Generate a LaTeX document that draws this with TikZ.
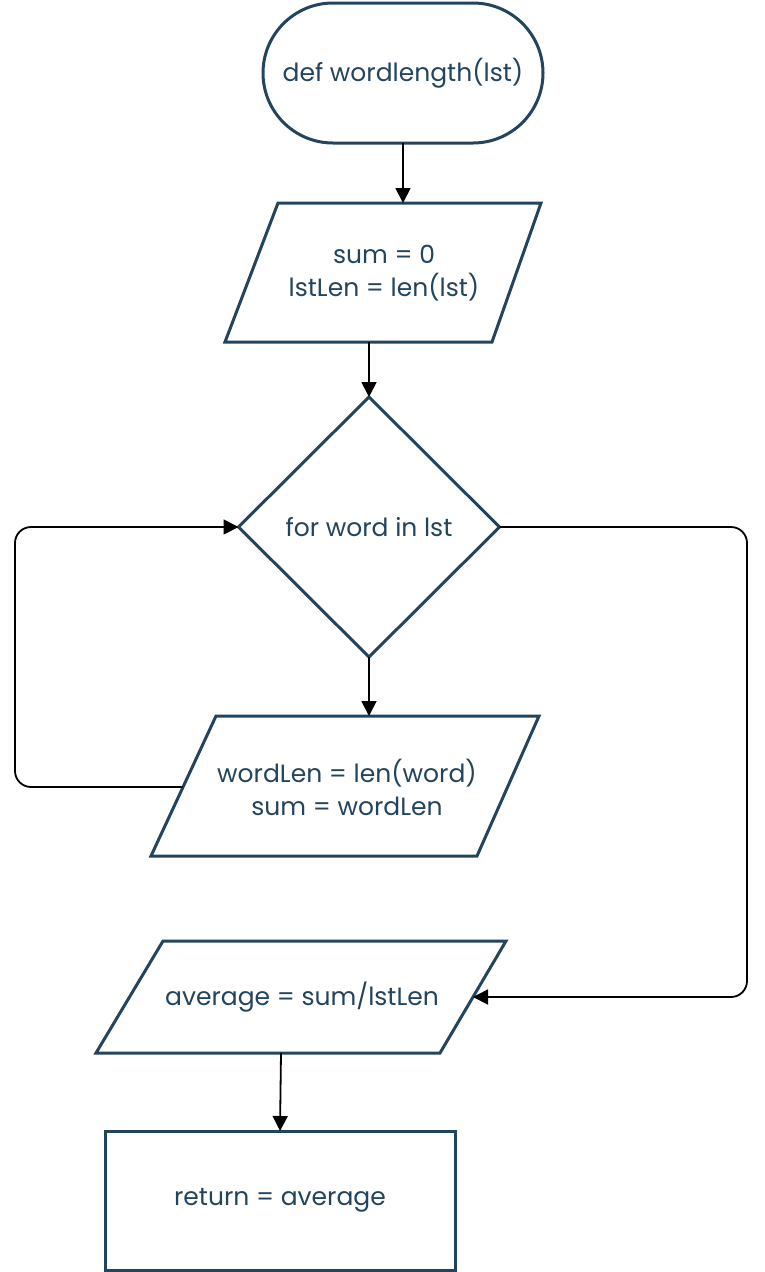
\documentclass[tikz,border=0pt]{standalone}
\usepackage{fontspec}
\setmainfont{Poppins}
\usetikzlibrary{arrows.meta,shapes.geometric}
\definecolor{navy}{HTML}{23445D}
\begin{document}
\begin{tikzpicture}[x=1pt,y=-1pt,
  shp/.style={draw=navy, line width=3pt, line join=miter},
  lbl/.style={text=navy, font=\fontsize{25}{33}\selectfont, align=center, inner sep=0pt},
  conn/.style={draw=black, line width=1.8pt, -{Triangle[length=15pt,width=15pt]}},
  loopconn/.style={conn, rounded corners=16pt}]
\useasboundingbox (0,0) rectangle (764,1272);
% start terminal
\node[shp, lbl, rounded corners=70pt, minimum width=280pt, minimum height=140pt, outer sep=0pt] (start) at (403,73) {def wordlength(lst)};
% parallelogram 1
\draw[shp] (278,203) -- (541,203) -- (492,342) -- (225,342) -- cycle;
\coordinate (p1top) at (403,203);
\coordinate (p1bot) at (369,342);
\node[lbl] (t1) at (384,273) {sum = 0\\lstLen = len(lst)};
% decision
\node[shp, lbl, diamond, minimum width=261pt, minimum height=260pt, outer sep=0pt] (dec) at (369,527) {for word in lst};
% parallelogram 2
\draw[shp] (216,716) -- (539,716) -- (477,856) -- (151,856) -- cycle;
\coordinate (p2top) at (369,716);
\coordinate (p2left) at (183,787);
\node[lbl] (t2) at (347,787) {wordLen = len(word)\\sum = wordLen};
% parallelogram 3
\draw[shp] (163,941) -- (506,941) -- (440,1053) -- (96,1053) -- cycle;
\coordinate (p3right) at (473,997);
\coordinate (p3bot) at (281,1053);
\node[lbl] (t3) at (302,997) {average = sum/lstLen};
% return box
\node[shp, lbl, minimum width=350pt, minimum height=139pt, outer sep=0pt] (ret) at (280,1200.5) {return = average};
% connectors
\draw[conn] (start.south) -- (p1top);
\draw[conn] (p1bot) -- (dec.north);
\draw[conn] (dec.south) -- (p2top);
\draw[loopconn] (p2left) -- (15,787) |- (dec.west);
\draw[loopconn] (dec.east) -- (747,527) |- (p3right);
\draw[conn] (p3bot) -- (ret.north);
\end{tikzpicture}
\end{document}
